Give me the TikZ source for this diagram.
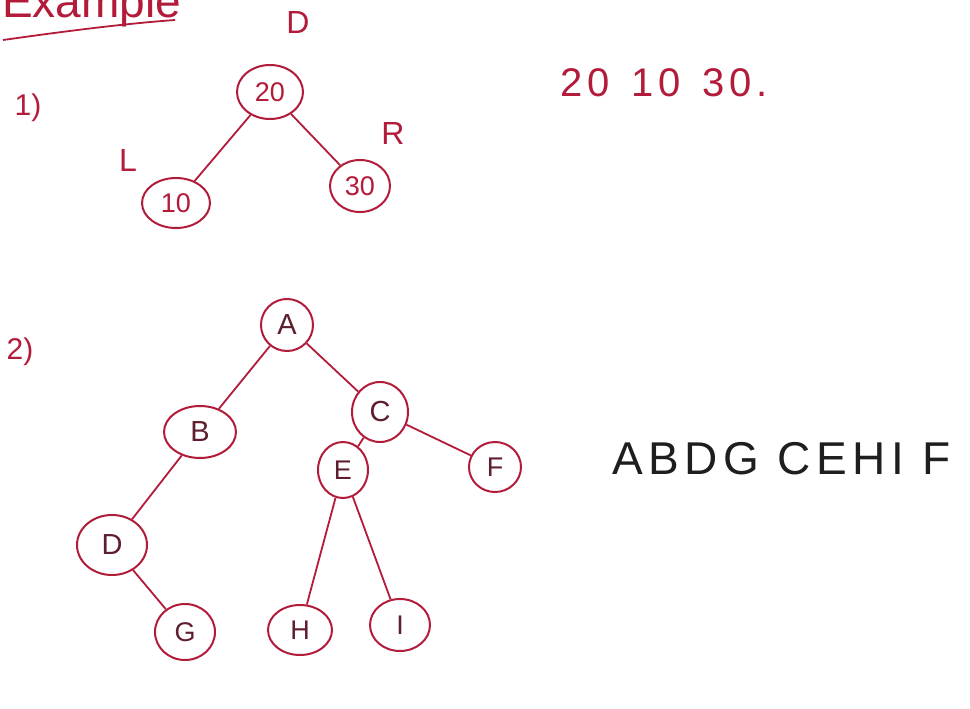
\documentclass[tikz,border=0pt]{standalone}
\usepackage{fontspec}
\setmainfont{Liberation Sans}
\usetikzlibrary{shapes.geometric}
\definecolor{ink}{RGB}{178,28,58}
\definecolor{darkink}{RGB}{95,30,45}
\definecolor{pencil}{RGB}{30,30,30}
\tikzset{
  treenode/.style={draw=ink, ellipse, line width=2pt, inner sep=0pt},
  edge/.style={draw=ink, line width=1.8pt},
  note/.style={text=ink, inner sep=0pt},
}
\begin{document}
\begin{tikzpicture}[x=1pt,y=-1pt]
\useasboundingbox (0,0) rectangle (970,709);
\fill[white] (0,0) rectangle (970,709);

% heading, running off the top edge
\node[note, anchor=base west, font=\fontsize{46}{50}\selectfont] (head) at (2,18) {Example};
\draw[edge] (3,40) .. controls (60,32) and (120,24) .. (175,20);

% example 1: a three-node tree
\node[note, font=\fontsize{30}{34}\selectfont] (one) at (28,108) {1)};
\node[treenode, text=ink, minimum width=66pt, minimum height=54pt, font=\fontsize{27}{30}\selectfont] (n20) at (270,92) {20};
\node[treenode, text=ink, minimum width=68pt, minimum height=50pt, font=\fontsize{27}{30}\selectfont] (n10) at (176,203) {10};
\node[treenode, text=ink, minimum width=60pt, minimum height=52pt, font=\fontsize{27}{30}\selectfont] (n30) at (360,186) {30};
\node[note, font=\fontsize{32}{36}\selectfont] (labD) at (298,22) {D};
\node[note, font=\fontsize{32}{36}\selectfont] (labL) at (128,160) {L};
\node[note, font=\fontsize{32}{36}\selectfont] (labR) at (393,133) {R};
\draw[edge] (n20) -- (n10);
\draw[edge] (n20) -- (n30);

\node[note, anchor=base west, font=\fontsize{40}{44}\selectfont\addfontfeatures{LetterSpace=12}] (order1) at (560,96) {20\hspace{22pt}10\hspace{22pt}30.};

% example 2: a nine-node tree
\node[note, font=\fontsize{30}{34}\selectfont] (two) at (20,352) {2)};
\begin{scope}[every node/.append style={text=darkink}]
\node[treenode, minimum width=52pt, minimum height=52pt, font=\fontsize{29}{32}\selectfont] (A) at (287,325) {A};
\node[treenode, minimum width=72pt, minimum height=52pt, font=\fontsize{29}{32}\selectfont] (B) at (200,432) {B};
\node[treenode, minimum width=56pt, minimum height=60pt, font=\fontsize{29}{32}\selectfont] (C) at (380,412) {C};
\node[treenode, minimum width=52pt, minimum height=50pt, font=\fontsize{27}{30}\selectfont] (F) at (495,467) {F};
\node[treenode, minimum width=50pt, minimum height=56pt, font=\fontsize{27}{30}\selectfont] (E) at (343,470) {E};
\node[treenode, minimum width=70pt, minimum height=60pt, font=\fontsize{29}{32}\selectfont] (D) at (112,545) {D};
\node[treenode, minimum width=60pt, minimum height=56pt, font=\fontsize{27}{30}\selectfont] (G) at (185,632) {G};
\node[treenode, minimum width=64pt, minimum height=50pt, font=\fontsize{27}{30}\selectfont] (H) at (300,630) {H};
\node[treenode, minimum width=60pt, minimum height=52pt, font=\fontsize{27}{30}\selectfont] (I) at (400,625) {I};
\end{scope}
\draw[edge] (A) -- (B);
\draw[edge] (A) -- (C);
\draw[edge] (B) -- (D);
\draw[edge] (D) -- (G);
\draw[edge] (C) -- (E);
\draw[edge] (C) -- (F);
\draw[edge] (E) -- (H);
\draw[edge] (E) -- (I);

\node[anchor=base west, text=pencil, inner sep=0pt, font=\fontsize{46}{50}\selectfont\addfontfeatures{LetterSpace=12}] (order2) at (612,474) {ABDG CEHI F};
\end{tikzpicture}
\end{document}
